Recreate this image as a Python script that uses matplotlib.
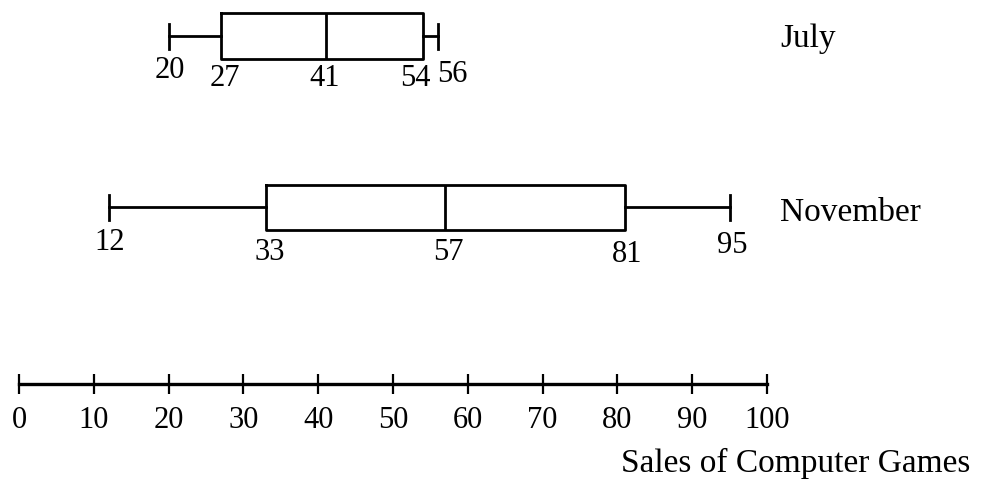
import matplotlib
matplotlib.use("Agg")
import matplotlib.pyplot as plt

# ---- data ----
months = ["July", "November"]
mins = [20, 12]
q1s = [27, 33]
medians = [41, 57]
q3s = [54, 81]
maxs = [56, 95]
tick_values = [0, 10, 20, 30, 40, 50, 60, 70, 80, 90, 100]
xlabel = "Sales of Computer Games"

# ---- layout (pixel-based y coordinates) ----
W, H = 986, 485
row_y = [37, 208]
box_h = [46, 45]
cap_h = [25, 25]
axis_y = 385
px_per_unit = 7.48
x0_px = 19

plt.rcParams['font.family'] = ['Liberation Serif', 'DejaVu Serif']
fig = plt.figure(figsize=(W / 100, H / 100), dpi=100)
ax = fig.add_axes([0, 0, 1, 1])
ax.set_xlim(-x0_px / px_per_unit, (W - x0_px) / px_per_unit)
ax.set_ylim(H, 0)

stats = []
for i, m in enumerate(months):
    stats.append(dict(label=m, whislo=mins[i], q1=q1s[i], med=medians[i],
                      q3=q3s[i], whishi=maxs[i], fliers=[]))

lw = 2.0
for i, s in enumerate(stats):
    ax.bxp([s], positions=[row_y[i]], widths=[box_h[i]], capwidths=[cap_h[i]],
           orientation='horizontal', showfliers=False, manage_ticks=False,
           boxprops=dict(color='black', linewidth=lw),
           whiskerprops=dict(color='black', linewidth=lw),
           capprops=dict(color='black', linewidth=lw),
           medianprops=dict(color='black', linewidth=lw))

fs = 22
fs_words = 24
# value labels
def lbl(x, y, t, dx=0):
    ax.text(x + dx / px_per_unit, y, t, ha='center', va='center', fontsize=fs)

# July
lbl(mins[0], 70, str(mins[0]), 1)
lbl(q1s[0], 79, str(q1s[0]), 4)
lbl(medians[0], 79, str(medians[0]), -1)
lbl(q3s[0], 79, str(q3s[0]), -8)
lbl(maxs[0], 74, str(maxs[0]), 14)
# November
lbl(mins[1], 243, str(mins[1]), 1)
lbl(q1s[1], 252, str(q1s[1]), 4)
lbl(medians[1], 252, str(medians[1]), 3)
lbl(q3s[1], 254, str(q3s[1]), 2)
lbl(maxs[1], 246, str(maxs[1]), 3)

# month names
for i, m in enumerate(months):
    ax.text((780 - x0_px) / px_per_unit, row_y[i] + (2 if i == 0 else 5), m,
            ha='left', va='center', fontsize=fs_words)

# custom number line axis
for side in ['top', 'left', 'right']:
    ax.spines[side].set_visible(False)
ax.spines['bottom'].set_position(('data', axis_y))
ax.spines['bottom'].set_bounds(0, 100)
ax.spines['bottom'].set_linewidth(2.4)
ax.set_xticks(tick_values)
ax.set_xticklabels([str(v) for v in tick_values], fontsize=fs)
ax.tick_params(axis='x', direction='inout', length=14.5, width=1.6, pad=8)
ax.set_yticks([])

fig.text(970 / W, 1 - 463 / H, xlabel, ha='right', va='center', fontsize=fs_words)

fig.savefig("out.png", dpi=100)
